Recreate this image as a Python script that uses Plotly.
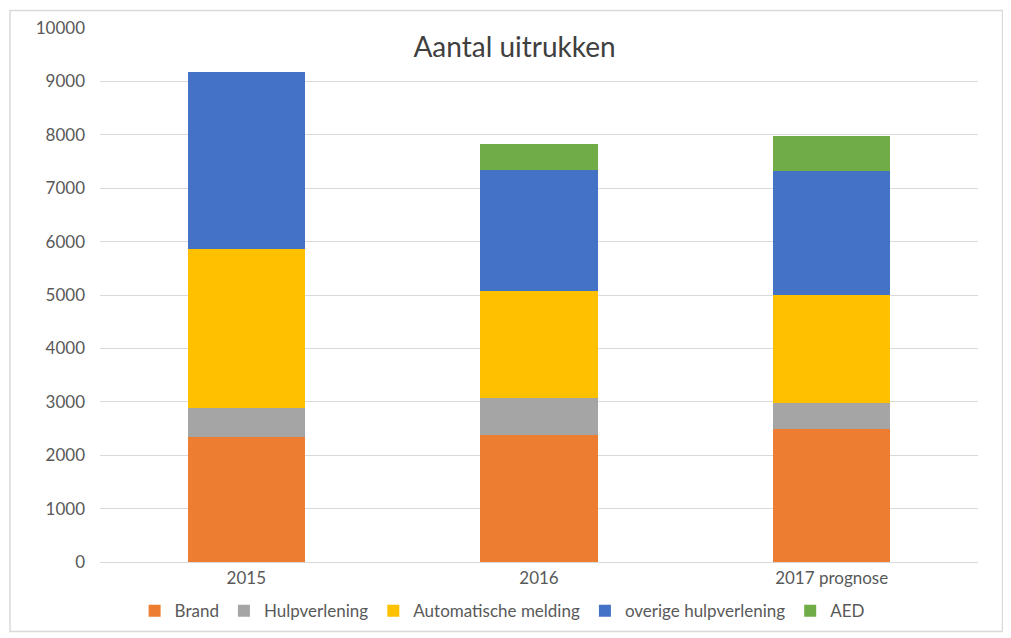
import plotly.graph_objects as go

categories = ["2015", "2016", "2017 prognose"]
brand = [2350, 2370, 2490]
hulpverlening = [530, 700, 495]
automatische_melding = [2980, 2005, 2010]
overige_hulpverlening = [3320, 2265, 2325]
aed = [0, 490, 665]

series = [
    ("Brand", brand, "#ED7D31"),
    ("Hulpverlening", hulpverlening, "#A5A5A5"),
    ("Automatische melding", automatische_melding, "#FFC000"),
    ("overige hulpverlening", overige_hulpverlening, "#4472C4"),
    ("AED", aed, "#70AD47"),
]

FONT = "Lato, 'Open Sans', sans-serif"

fig = go.Figure()
for name, vals, color in series:
    fig.add_trace(go.Bar(x=categories, y=vals, name=name,
                         marker=dict(color=color, line=dict(width=0))))

W, H = 1003, 630
fig.update_layout(
    barmode="stack",
    bargap=0.6,
    width=W, height=H,
    margin=dict(l=92, r=33, t=20, b=76, autoexpand=False),
    paper_bgcolor="white",
    plot_bgcolor="white",
    font=dict(family=FONT, color="#595959", size=17),
    title=dict(text="Aantal uitrukken", x=0.505, xanchor="center",
               y=1 - 39 / H, yanchor="middle", yref="container",
               font=dict(family=FONT, size=28, color="#404040")),
    xaxis=dict(showgrid=False, showline=False, ticks="", automargin=False,
               ticklabelstandoff=4,
               tickfont=dict(size=17, color="#595959")),
    yaxis=dict(range=[0, 10000], dtick=1000, tickformat="d", automargin=False,
               showgrid=True,
               gridcolor="#D9D9D9", gridwidth=1, zeroline=True,
               zerolinecolor="#D9D9D9", zerolinewidth=1,
               showline=False, ticks="", ticklabelstandoff=14,
               tickfont=dict(size=17, color="#595959")),
    legend=dict(orientation="h", x=0.458, xanchor="center",
                y=-0.092, yanchor="middle", traceorder="normal",
                font=dict(size=17, color="#595959"), itemwidth=30),
    showlegend=True,
)

fig.add_shape(type="rect", xref="paper", yref="paper",
              x0=-0.1025, x1=1.028, y0=-0.13, y1=1.033,
              line=dict(color="#D9D9D9", width=1.5), fillcolor="rgba(0,0,0,0)",
              layer="below")

fig.write_html("out.html")
